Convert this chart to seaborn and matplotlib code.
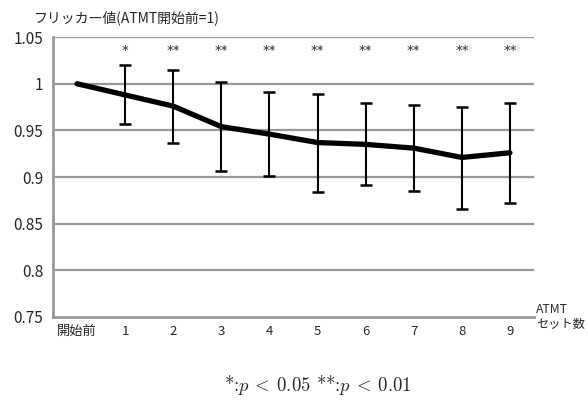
import numpy as np
import pandas as pd
import matplotlib
matplotlib.use("Agg")
import matplotlib.pyplot as plt
import seaborn as sns

# === DATA ===
categories = ["開始前", "1", "2", "3", "4", "5", "6", "7", "8", "9"]
flicker_mean = [1.000, 0.988, 0.976, 0.954, 0.946, 0.937, 0.935, 0.931, 0.921, 0.926]
err_upper = [np.nan, 1.020, 1.015, 1.002, 0.991, 0.989, 0.979, 0.977, 0.975, 0.979]
err_lower = [np.nan, 0.957, 0.936, 0.907, 0.901, 0.884, 0.891, 0.885, 0.866, 0.872]
signif = ["", "*", "**", "**", "**", "**", "**", "**", "**", "**"]

df = pd.DataFrame({"pos": range(len(categories)), "val": flicker_mean,
                   "hi": err_upper, "lo": err_lower})

# === Plotting Setup ===
sns.set_style("white")
plt.rcParams["font.family"] = ["Noto Sans CJK JP", "DejaVu Sans"]
plt.rcParams["mathtext.fontset"] = "cm"

fig = plt.figure(figsize=(5.88, 4.01), dpi=100)
ax = fig.add_axes([0.0901, 0.2095, 0.818, 0.698])

grid_c = "#999999"
for y in np.arange(0.80, 1.051, 0.05):
    ax.axhline(y, color=grid_c, lw=1.6, zorder=0)

# error bars
eb = df.dropna()
ax.errorbar(eb["pos"], eb["val"], yerr=[eb["val"] - eb["lo"], eb["hi"] - eb["val"]],
            fmt="none", ecolor="black", elinewidth=1.5, capsize=4, capthick=1.8, zorder=3)

sns.lineplot(data=df, x="pos", y="val", color="black", lw=3.8, ax=ax, zorder=4)

# significance marks
for i, s in enumerate(signif):
    if s:
        ax.text(i, 1.036, s, ha="center", va="center", fontsize=9.5, family="DejaVu Sans")

ax.set_xlim(-0.5, 9.5)
ax.set_ylim(0.75, 1.05)
ax.set_yticks(np.arange(0.75, 1.051, 0.05))
ax.set_yticklabels(["0.75", "0.8", "0.85", "0.9", "0.95", "1", "1.05"], fontsize=11)
ax.set_xticks(range(len(categories)))
ax.set_xticklabels(categories, fontsize=9.5)
ax.set_xticks(np.arange(-0.5, 9.6, 1), minor=True)
ax.tick_params(axis="x", which="major", length=0, pad=6)
ax.tick_params(axis="x", which="minor", length=4, width=1.5, color=grid_c, direction="out")
ax.tick_params(axis="y", length=4, width=1.5, color=grid_c, direction="out", pad=3)
ax.set_xlabel("")
ax.set_ylabel("")

for side in ["top", "right"]:
    ax.spines[side].set_visible(False)
for side in ["left", "bottom"]:
    ax.spines[side].set_color(grid_c)
    ax.spines[side].set_linewidth(2)

fig.text(0.058, 0.955, "フリッカー値(ATMT開始前=1)", fontsize=10, va="center", ha="left")
fig.text(0.912, 0.2095, "ATMT\nセット数", fontsize=8.8, va="center", ha="left", linespacing=1.2)
fig.text(0.54, 0.04, r"*:$p \:<\: 0.05$ **:$p \:<\: 0.01$", fontsize=13.5, ha="center",
         va="center", family="cmr10")

fig.savefig("out.png", dpi=100)
plt.close(fig)
